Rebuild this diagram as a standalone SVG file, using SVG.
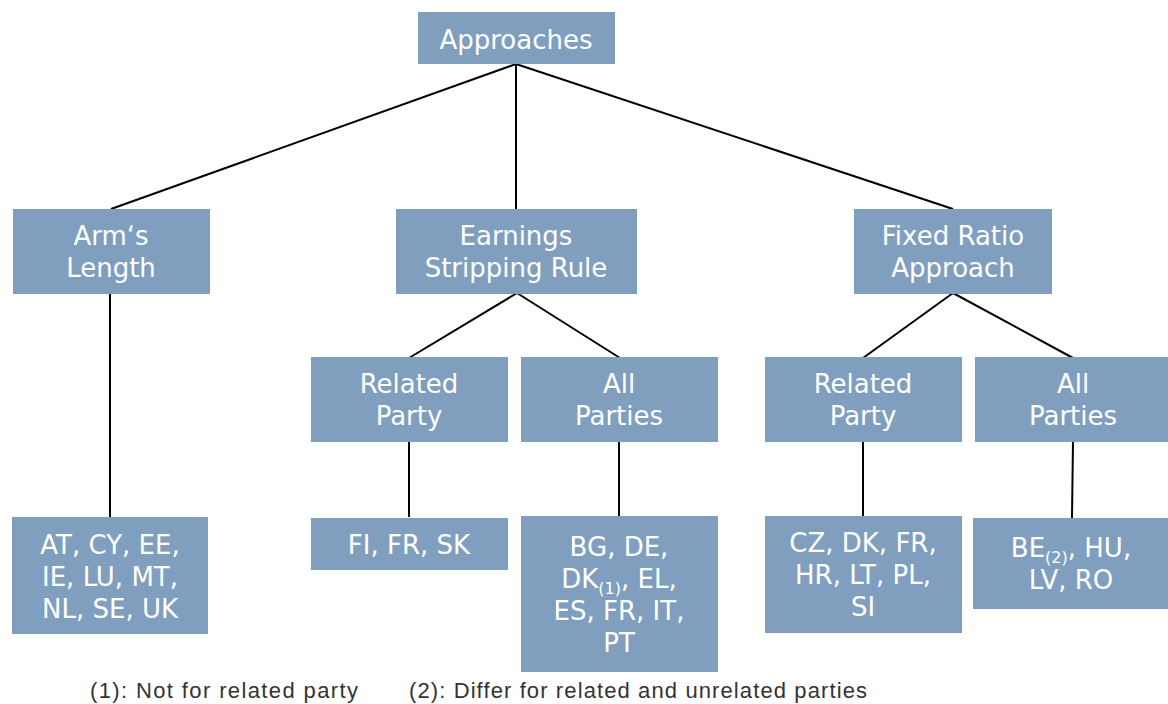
<svg xmlns="http://www.w3.org/2000/svg" width="1168" height="704" viewBox="0 0 1168 704">
<style>
.box{fill:#809fbf;}
.lbl{font-family:"DejaVu Sans","Liberation Sans",sans-serif;font-size:26px;fill:#ffffff;text-anchor:middle;}
.sub{font-size:16px;}
.edge{stroke:#000000;stroke-width:2;fill:none;}
.note{font-family:"Liberation Sans","DejaVu Sans",sans-serif;font-size:22px;fill:#333333;}
</style>
<rect width="1168" height="704" fill="#ffffff"/>
<g id="connectors">
<line class="edge" x1="516" y1="64" x2="111" y2="209"/>
<line class="edge" x1="516" y1="64" x2="516" y2="209"/>
<line class="edge" x1="516" y1="64" x2="953" y2="209"/>
<line class="edge" x1="110" y1="293" x2="110" y2="517"/>
<line class="edge" x1="517" y1="293" x2="409" y2="358"/>
<line class="edge" x1="517" y1="293" x2="620" y2="358"/>
<line class="edge" x1="953" y1="293" x2="863" y2="358"/>
<line class="edge" x1="953" y1="293" x2="1073" y2="358"/>
<line class="edge" x1="409" y1="441" x2="409" y2="517"/>
<line class="edge" x1="619" y1="441" x2="619" y2="516"/>
<line class="edge" x1="863" y1="441" x2="863" y2="516"/>
<line class="edge" x1="1073" y1="441" x2="1072" y2="518"/>
</g>
<g id="approaches">
<rect class="box" x="418" y="12" width="197" height="52"/>
<text class="lbl" x="516" y="49">Approaches</text>
</g>
<g id="arms-length">
<rect class="box" x="13" y="209" width="197" height="85"/>
<text class="lbl" x="111" y="245">Arm‘s</text>
<text class="lbl" x="111" y="277">Length</text>
</g>
<g id="earnings-stripping">
<rect class="box" x="396" y="209" width="241" height="85"/>
<text class="lbl" x="516" y="245">Earnings</text>
<text class="lbl" x="516" y="277">Stripping Rule</text>
</g>
<g id="fixed-ratio">
<rect class="box" x="854" y="209" width="198" height="85"/>
<text class="lbl" x="953" y="245">Fixed Ratio</text>
<text class="lbl" x="953" y="277">Approach</text>
</g>
<g id="esr-related">
<rect class="box" x="311" y="357" width="197" height="85"/>
<text class="lbl" x="409" y="393">Related</text>
<text class="lbl" x="409" y="425">Party</text>
</g>
<g id="esr-all">
<rect class="box" x="521" y="357" width="197" height="85"/>
<text class="lbl" x="619" y="393">All</text>
<text class="lbl" x="619" y="425">Parties</text>
</g>
<g id="fra-related">
<rect class="box" x="765" y="357" width="197" height="85"/>
<text class="lbl" x="863" y="393">Related</text>
<text class="lbl" x="863" y="425">Party</text>
</g>
<g id="fra-all">
<rect class="box" x="975" y="357" width="193" height="85"/>
<text class="lbl" x="1073" y="393">All</text>
<text class="lbl" x="1073" y="425">Parties</text>
</g>
<g id="arms-countries">
<rect class="box" x="12" y="517" width="196" height="117"/>
<text class="lbl" x="110" y="554">AT, CY, EE,</text>
<text class="lbl" x="110" y="586">IE, LU, MT,</text>
<text class="lbl" x="110" y="618">NL, SE, UK</text>
</g>
<g id="esr-related-countries">
<rect class="box" x="311" y="518" width="197" height="52"/>
<text class="lbl" x="409" y="554">FI, FR, SK</text>
</g>
<g id="esr-all-countries">
<rect class="box" x="521" y="516" width="197" height="156"/>
<text class="lbl" x="619" y="556">BG, DE,</text>
<text class="lbl" x="619" y="588">DK<tspan class="sub" dy="6">(1)</tspan><tspan dy="-6">, EL,</tspan></text>
<text class="lbl" x="619" y="620">ES, FR, IT,</text>
<text class="lbl" x="619" y="652">PT</text>
</g>
<g id="fra-related-countries">
<rect class="box" x="765" y="516" width="197" height="117"/>
<text class="lbl" x="863" y="552">CZ, DK, FR,</text>
<text class="lbl" x="863" y="584">HR, LT, PL,</text>
<text class="lbl" x="863" y="616">SI</text>
</g>
<g id="fra-all-countries">
<rect class="box" x="973" y="518" width="195" height="91"/>
<text class="lbl" x="1071" y="557">BE<tspan class="sub" dy="6">(2)</tspan><tspan dy="-6">, HU,</tspan></text>
<text class="lbl" x="1071" y="589">LV, RO</text>
</g>
<g id="footnotes">
<text class="note" x="90" y="698" textLength="268">(1):  Not for related party</text>
<text class="note" x="409" y="698" textLength="458">(2):  Differ for related and unrelated parties</text>
</g>
</svg>
